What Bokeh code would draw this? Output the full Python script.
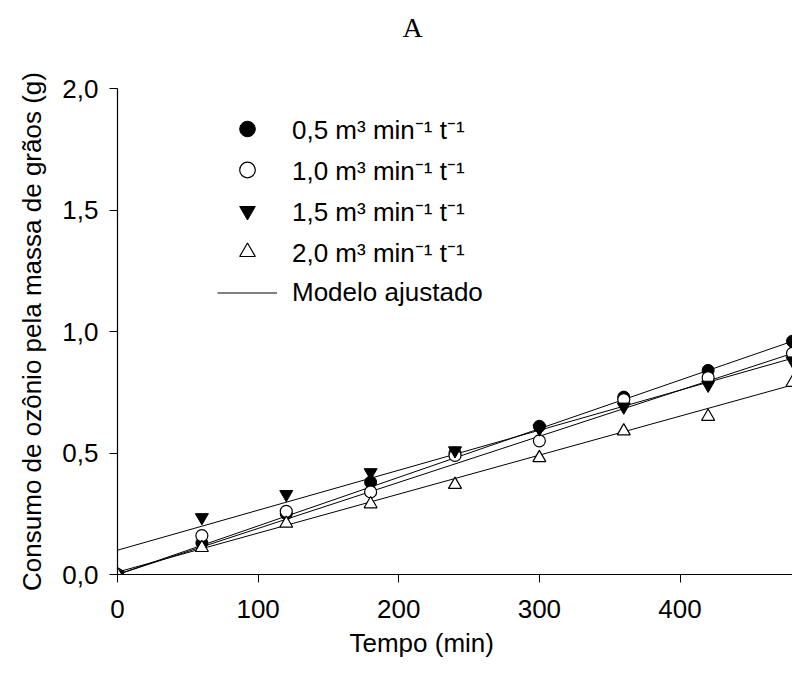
from bokeh.plotting import figure
from bokeh.models import (Range1d, FixedTicker, CustomJSTickFormatter, Legend,
                          LegendItem, Title)
from bokeh.embed import file_html
from bokeh.resources import INLINE

# ---- data ----
tempo = [0, 60, 120, 180, 240, 300, 360, 420, 480]
s05 = [0.00, 0.13, 0.25, 0.38, 0.50, 0.61, 0.73, 0.84, 0.96]
s10 = [0.00, 0.16, 0.26, 0.34, 0.49, 0.55, 0.72, 0.81, 0.91]
s15 = [0.00, 0.235, 0.33, 0.42, 0.51, 0.60, 0.69, 0.78, 0.88]
s20 = [0.00, 0.11, 0.21, 0.29, 0.37, 0.48, 0.59, 0.65, 0.79]

fit_t = [0, 480]
fit05 = [0.00, 0.96]
fit10 = [0.00, 0.91]
fit15 = [0.10, 0.89]
fit20 = [0.01, 0.78]

labels = ["0,5 m³ min⁻¹ t⁻¹", "1,0 m³ min⁻¹ t⁻¹",
          "1,5 m³ min⁻¹ t⁻¹", "2,0 m³ min⁻¹ t⁻¹", "Modelo ajustado"]
x_ticks = [0, 100, 200, 300, 400]
y_ticks = [0.0, 0.5, 1.0, 1.5, 2.0]
panel_title = "A"
x_title = "Tempo (min)"
y_title = "Consumo de ozônio pela massa de grãos (g)"

FONT = "Liberation Sans"
FS = "26px"

p = figure(width=792, height=673, output_backend="svg", toolbar_location=None,
           x_range=Range1d(0, 480), y_range=Range1d(0, 2.0),
           min_border_left=117, min_border_right=0, min_border_top=88,
           min_border_bottom=99)
p.outline_line_color = None
p.grid.visible = False
p.background_fill_color = "white"
p.border_fill_color = "white"

p.title = Title(text=panel_title, align="left", offset=285, standoff=0,
                padding=(0, 0, 2, 46),
                text_font="Liberation Serif", text_font_size="28px",
                text_font_style="normal", text_color="black")

# fitted lines
lines = []
for fy in (fit05, fit10, fit15, fit20):
    lines.append(p.line(fit_t, fy, line_color="black", line_width=1))

ms = 12
r05 = p.scatter(tempo, s05, marker="circle", size=ms, fill_color="black", line_color="black")
r10 = p.scatter(tempo, s10, marker="circle", size=ms, fill_color="white", line_color="black", line_width=1.2)
r15 = p.scatter(tempo, s15, marker="inverted_triangle", size=ms + 1, fill_color="black", line_color="black")
r20 = p.scatter(tempo, s20, marker="triangle", size=ms + 1, fill_color="white", line_color="black", line_width=1.2)

# axes
for ax in (p.xaxis[0], p.yaxis[0]):
    ax.axis_line_color = "black"
    ax.axis_line_width = 1.2
    ax.major_tick_line_color = "black"
    ax.major_tick_out = 8
    ax.major_tick_in = 0
    ax.minor_tick_line_color = None
    ax.major_label_text_font = FONT
    ax.major_label_text_font_size = FS
    ax.major_label_text_color = "black"
    ax.axis_label_text_font = FONT
    ax.axis_label_text_font_size = FS
    ax.axis_label_text_font_style = "normal"
    ax.axis_label_text_color = "black"

p.xaxis.ticker = FixedTicker(ticks=x_ticks)
p.yaxis.ticker = FixedTicker(ticks=y_ticks)
p.yaxis.formatter = CustomJSTickFormatter(code="return tick.toFixed(1).replace('.', ',');")
p.yaxis.axis_label = y_title
p.xaxis.major_label_standoff = 17
p.yaxis.major_label_standoff = 11
p.yaxis.axis_label_standoff = 12

p.add_layout(Title(text=x_title, align="left", offset=232, standoff=10,
                   text_font=FONT, text_font_size=FS, text_font_style="normal",
                   text_color="black"), "below")

legend = Legend(items=[LegendItem(label=labels[0], renderers=[r05]),
                       LegendItem(label=labels[1], renderers=[r10]),
                       LegendItem(label=labels[2], renderers=[r15]),
                       LegendItem(label=labels[3], renderers=[r20]),
                       LegendItem(label=labels[4], renderers=[lines[0]])],
                location=(100, 262), glyph_width=60, glyph_height=39,
                label_height=39, spacing=2, padding=0, margin=0,
                label_standoff=15, border_line_color=None,
                background_fill_alpha=0,
                label_text_font=FONT, label_text_font_size=FS,
                label_text_color="black")
p.add_layout(legend)

open("out.html", "w").write(file_html(p, INLINE))
